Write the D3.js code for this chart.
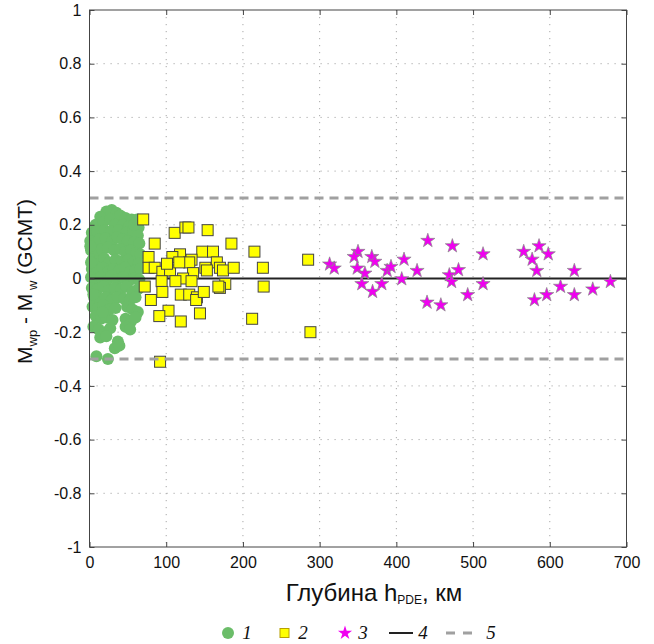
<!DOCTYPE html>
<html>
<head>
<meta charset="utf-8">
<script src="https://cdn.jsdelivr.net/npm/d3@7"></script>
<style>
  body { margin: 0; background: #fff; }
  svg { display: block; font-family: "Liberation Sans", Arial, sans-serif; }
</style>
</head>
<body>
<div id="chart"></div>
<script>
// group 1: shallow events, depth (km) and dM
const greenDepth = [29,22,35,14,40,47,55,60,64,8,18,27,33,44,52,3,10,20,28,38,48,57,63,
  1,6,13,21,30,36,43,50,58,65,2,9,16,24,32,40,47,54,61,66,
  4,11,19,26,34,42,50,57,64,3,10,17,24,31,39,46,53,60,66,
  2,8,15,22,29,36,44,51,58,65,3,10,18,25,33,41,48,56,63,
  6,13,21,29,37,45,53,60,4,11,18,26,34,49,56,63,
  8,15,22,30,47,54,60,5,12,20,27,47,53,
  14,22,37,33,39,9,24,17,1,2,5,58,62]
const greenDm = [0.255,0.25,0.245,0.23,0.235,0.225,0.22,0.205,0.19,0.2,0.21,0.22,0.2,0.2,0.195,0.17,0.175,0.18,0.175,0.18,0.17,0.175,0.16,
  0.14,0.13,0.145,0.15,0.14,0.155,0.145,0.14,0.135,0.13,0.105,0.1,0.11,0.115,0.105,0.11,0.1,0.105,0.095,0.09,
  0.07,0.065,0.075,0.06,0.07,0.065,0.07,0.06,0.055,0.035,0.03,0.04,0.025,0.035,0.03,0.04,0.025,0.03,0.035,
  0.005,-0.005,0.005,-0.01,0.01,-0.005,0.005,-0.01,0,-0.005,-0.035,-0.04,-0.03,-0.045,-0.035,-0.04,-0.03,-0.05,-0.04,
  -0.07,-0.075,-0.07,-0.08,-0.07,-0.075,-0.08,-0.07,-0.105,-0.11,-0.1,-0.115,-0.11,-0.105,-0.115,-0.125,
  -0.14,-0.15,-0.145,-0.155,-0.15,-0.16,-0.145,-0.18,-0.19,-0.2,-0.185,-0.18,-0.19,
  -0.22,-0.215,-0.235,-0.26,-0.25,-0.29,-0.3,-0.125,0.12,0.06,-0.06,0.2,0.22]

// group 2: intermediate depth
const yellowDepth = [70,111,125,129,154,85,185,77,77,85,118,108,95,105,147,161,215,133,130,117,166,
  151,153,170,174,188,226,135,122,94,112,133,72,177,170,168,227,95,80,119,130,140,139,149,103,144,91,119,212,92,101,285,288]
const yellowDm = [0.22,0.17,0.19,0.19,0.18,0.13,0.13,0.08,0.04,0.04,0.09,0.08,0.025,0.03,0.1,0.1,0.1,0.07,0.06,0.06,0.06,
  0.04,0.03,0.04,0.03,0.04,0.04,0.02,0,-0.01,-0.01,-0.01,-0.03,-0.02,-0.035,-0.03,-0.03,-0.05,-0.08,-0.06,-0.06,-0.07,-0.08,-0.05,-0.12,-0.13,-0.14,-0.16,-0.15,-0.31,0.055,0.07,-0.2]

// group 3: deep events
const magentaDepth = [313,319,350,345,349,359,355,368,372,369,381,388,393,410,407,427,441,440,458,
  473,469,472,481,493,513,513,566,586,577,598,583,580,596,614,632,632,656,679]
const magentaDm = [0.053,0.038,0.1,0.081,0.038,0.019,-0.02,0.081,0.063,-0.049,-0.02,0.029,0.044,0.071,-0.002,0.029,0.141,-0.089,-0.099,
  0.121,0.013,-0.012,0.032,-0.061,0.091,-0.02,0.1,0.121,0.071,0.091,0.029,-0.08,-0.061,-0.03,0.029,-0.061,-0.04,-0.012]

const xTicks = [0,100,200,300,400,500,600,700]
const yTicks = [-1,-0.8,-0.6,-0.4,-0.2,0,0.2,0.4,0.6,0.8,1]
const limitLines = [0.3, -0.3]
const legendLabels = ["1","2","3","4","5"]

const width = 654, height = 644
const pLeft = 89.5, pRight = 626.5, pTop = 10, pBottom = 547

const svg = d3.select("#chart").append("svg")
  .attr("width", width)
  .attr("height", height)

const x = d3.scaleLinear().domain([0, 700]).range([pLeft, pRight])
const y = d3.scaleLinear().domain([-1, 1]).range([pBottom, pTop])

// dotted grid
const grid = svg.append("g")
grid.selectAll(".gx").data(xTicks.slice(1, -1)).enter().append("line")
  .attr("x1", d => x(d)).attr("x2", d => x(d))
  .attr("y1", pTop).attr("y2", pBottom)
  .attr("stroke", "#a8a8a8").attr("stroke-width", 1).attr("stroke-dasharray", "1.2,5.8")
grid.selectAll(".gy").data(yTicks.slice(1, -1)).enter().append("line")
  .attr("y1", d => y(d)).attr("y2", d => y(d))
  .attr("x1", pLeft).attr("x2", pRight)
  .attr("stroke", "#a8a8a8").attr("stroke-width", 1).attr("stroke-dasharray", "1.2,5.8")

// points
svg.append("g").selectAll("circle")
  .data(greenDepth.map((d, i) => [d, greenDm[i]]))
  .enter().append("circle")
  .attr("cx", d => x(d[0]))
  .attr("cy", d => y(d[1]))
  .attr("r", 6)
  .attr("fill", "#6bbd69")

svg.append("line")
  .attr("x1", pLeft).attr("x2", pRight)
  .attr("y1", y(0)).attr("y2", y(0))
  .attr("stroke", "#222").attr("stroke-width", 2)

svg.append("g").selectAll("rect")
  .data(yellowDepth.map((d, i) => [d, yellowDm[i]]))
  .enter().append("rect")
  .attr("x", d => x(d[0]) - 5.5)
  .attr("y", d => y(d[1]) - 5.5)
  .attr("width", 11).attr("height", 11)
  .attr("fill", "#ffff00")
  .attr("stroke", "#444").attr("stroke-width", 1)

const star = d3.symbol().type(d3.symbolStar).size(62)
svg.append("g").selectAll("path")
  .data(magentaDepth.map((d, i) => [d, magentaDm[i]]))
  .enter().append("path")
  .attr("d", star)
  .attr("transform", d => "translate(" + x(d[0]) + "," + y(d[1]) + ")")
  .attr("fill", "#f000f0")
  .attr("stroke", "#888").attr("stroke-width", 0.7)

svg.selectAll(".limit").data(limitLines).enter().append("line")
  .attr("x1", pLeft).attr("x2", pRight)
  .attr("y1", d => y(d)).attr("y2", d => y(d))
  .attr("stroke", "#a0a0a0").attr("stroke-width", 3).attr("stroke-dasharray", "9,6")

// box and axes, ticks pointing inward
svg.append("rect")
  .attr("x", pLeft).attr("y", pTop)
  .attr("width", pRight - pLeft).attr("height", pBottom - pTop)
  .attr("fill", "none").attr("stroke", "#444").attr("stroke-width", 1)

// plain hyphen for negatives, like the original
const fmt = d => String(d)

svg.append("g")
  .attr("transform", "translate(0," + pBottom + ")")
  .call(d3.axisBottom(x).tickValues(xTicks).tickSize(-5).tickPadding(10).tickFormat(fmt))
svg.append("g")
  .attr("transform", "translate(0," + pTop + ")")
  .call(d3.axisTop(x).tickValues(xTicks).tickSize(-5).tickFormat(""))
svg.append("g")
  .attr("transform", "translate(" + pLeft + ",0)")
  .call(d3.axisLeft(y).tickValues(yTicks).tickSize(-5).tickPadding(8).tickFormat(fmt))
svg.append("g")
  .attr("transform", "translate(" + pRight + ",0)")
  .call(d3.axisRight(y).tickValues(yTicks).tickSize(-5).tickFormat(""))

svg.selectAll(".domain").remove()
svg.selectAll(".tick line").attr("stroke", "#444")
svg.selectAll(".tick text")
  .attr("fill", "#111")
  .style("font-size", "16px")
  .style("font-family", "'Liberation Sans', Arial, sans-serif")

// axis titles
const xt = svg.append("text")
  .attr("x", 374)
  .attr("y", 601)
  .attr("text-anchor", "middle")
  .attr("fill", "#111")
  .style("font-size", "24px")
xt.append("tspan").text("Глубина h")
xt.append("tspan").attr("dy", 3).style("font-size", "12px").text("PDE")
xt.append("tspan").attr("dy", -3).text(", км")

const yt = svg.append("text")
  .attr("transform", "translate(32,281.5) rotate(-90)")
  .attr("text-anchor", "middle")
  .attr("fill", "#111")
  .style("font-size", "21px")
yt.append("tspan").text("M")
yt.append("tspan").attr("dy", 5).style("font-size", "13px").text("wp")
yt.append("tspan").attr("dy", -5).text(" - M")
yt.append("tspan").attr("dy", 5).style("font-size", "13px").text(" w")
yt.append("tspan").attr("dy", -5).text(" (GCMT)")

// legend
const ly = 633
const legend = svg.append("g")
legend.append("circle").attr("cx", 228).attr("cy", ly).attr("r", 6).attr("fill", "#6bbd69")
legend.append("rect").attr("x", 280).attr("y", ly - 4.5).attr("width", 9).attr("height", 9)
  .attr("fill", "#ffff00").attr("stroke", "#b8a000").attr("stroke-width", 1)
legend.append("path").attr("d", star).attr("transform", "translate(345," + ly + ")")
  .attr("fill", "#f000f0")
legend.append("line").attr("x1", 389).attr("x2", 413).attr("y1", ly).attr("y2", ly)
  .attr("stroke", "#222").attr("stroke-width", 2)
legend.append("line").attr("x1", 446).attr("x2", 474).attr("y1", ly).attr("y2", ly)
  .attr("stroke", "#a0a0a0").attr("stroke-width", 3).attr("stroke-dasharray", "9,8")

const legendX = [247, 303, 363, 423, 491]
legend.selectAll(".lt").data(legendLabels).enter().append("text")
  .attr("x", (d, i) => legendX[i])
  .attr("y", ly + 6)
  .attr("text-anchor", "middle")
  .attr("fill", "#111")
  .style("font-family", "'Liberation Serif', 'Times New Roman', serif")
  .style("font-style", "italic")
  .style("font-size", "19px")
  .text(d => d)
</script>
</body>
</html>
